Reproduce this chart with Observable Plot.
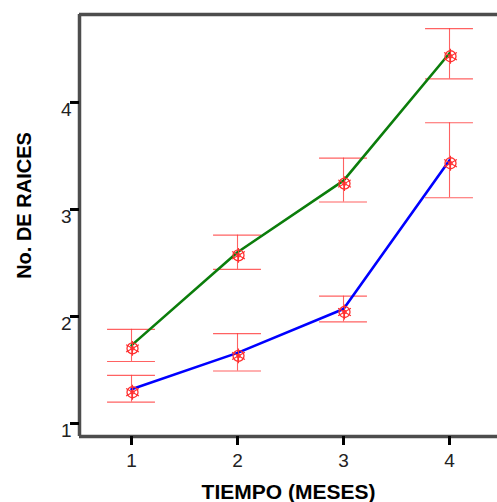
<!DOCTYPE html>
<html>
<head>
<meta charset="utf-8">
<script src="https://cdn.jsdelivr.net/npm/d3@7"></script>
<script src="https://cdn.jsdelivr.net/npm/@observablehq/plot@0.6"></script>
<style>
  html, body { margin: 0; padding: 0; background: #fff; }
</style>
</head>
<body>
<div id="chart"></div>
<script>
// ---- data ----
const months = [1, 2, 3, 4];
const greenMean = [1.73, 2.60, 3.27, 4.46];
const greenLow  = [1.58, 2.44, 3.07, 4.22];
const greenHigh = [1.88, 2.76, 3.48, 4.69];
const blueMean  = [1.32, 1.66, 2.07, 3.46];
const blueLow   = [1.20, 1.49, 1.95, 3.11];
const blueHigh  = [1.45, 1.84, 2.19, 3.81];
const xTicks = [1, 2, 3, 4];
const yTicks = [1, 2, 3, 4];
const xTitle = "TIEMPO (MESES)";
const yTitle = "No. DE RAICES";

// ---- layout ----
const W = 497, H = 502;
const xDomain = [0.5094, 4.4528];
const yDomain = [0.8785, 4.822];
const capHalf = 0.226; // half-width of error-bar caps in x units
const FONT = "'Liberation Sans', Arial, Helvetica, sans-serif";
const fmt = d3.format("d");

const rows = [];
months.forEach((t, i) => {
  rows.push({serie: "verde", t, mean: greenMean[i], low: greenLow[i], high: greenHigh[i]});
  rows.push({serie: "azul", t, mean: blueMean[i], low: blueLow[i], high: blueHigh[i]});
});
const green = rows.filter(d => d.serie === "verde");
const blue = rows.filter(d => d.serie === "azul");

const spine = {stroke: "#4d4d4d", strokeWidth: 3.5};
const err = {stroke: "#ff3b3b", strokeWidth: 1.1, strokeOpacity: 0.8};
const red = "#ff3030";

const chart = Plot.plot({
  width: W,
  height: H,
  marginLeft: 79,
  marginRight: 0,
  marginTop: 14,
  marginBottom: 66,
  style: {fontFamily: FONT, fontSize: "19px", background: "#fff", color: "#222", overflow: "visible"},
  x: {domain: xDomain},
  y: {domain: yDomain},
  marks: [
    // error bars
    Plot.ruleX(rows, {x: "t", y1: "low", y2: "high", ...err}),
    Plot.ruleY(rows, {y: "low", x1: d => d.t - capHalf, x2: d => d.t + capHalf, ...err}),
    Plot.ruleY(rows, {y: "high", x1: d => d.t - capHalf, x2: d => d.t + capHalf, ...err}),
    // lines
    Plot.line(green, {x: "t", y: "mean", stroke: "#0b7d0b", strokeWidth: 2.6}),
    Plot.line(blue, {x: "t", y: "mean", stroke: "#0000ff", strokeWidth: 2.6}),
    // markers
    Plot.dot(rows, {x: "t", y: "mean", r: 5.5, stroke: red, strokeWidth: 1.3, fill: "none", dx: 1, dy: 3}),
    Plot.dot(rows, {x: "t", y: "mean", r: 7, symbol: "asterisk", stroke: red, strokeWidth: 1.1, dx: 1, dy: 3}),
    Plot.dot(rows, {x: "t", y: "mean", r: 1.8, stroke: red, strokeWidth: 1, fill: "none", dx: 1, dy: 3}),
    // frame (left, top, bottom)
    Plot.ruleX([xDomain[0]], spine),
    Plot.ruleY([yDomain[0], yDomain[1]], spine),
    // axes
    Plot.axisX({ticks: xTicks, tickFormat: fmt, tickSize: 9, tickPadding: 7.5, strokeWidth: 3, stroke: "#000", fill: "#222", fontSize: 19, label: null}),
    Plot.axisY({ticks: yTicks, tickSize: 9, strokeWidth: 3, stroke: "#000", tickFormat: () => "", label: null}),
    Plot.axisY({ticks: yTicks, tickFormat: fmt, tickSize: 0, tickPadding: 8, dy: 7, fill: "#222", fontSize: 19, label: null}),
    // titles
    Plot.text([xTitle], {frameAnchor: "bottom", dy: 56, fontSize: 21, fontWeight: "bold", fill: "#000", lineAnchor: "middle", textAnchor: "middle"}),
    Plot.text([yTitle], {frameAnchor: "left", dx: -55, dy: -20, rotate: -90, fontSize: 20, fontWeight: "bold", fill: "#000", lineAnchor: "middle", textAnchor: "middle"})
  ]
});
document.getElementById("chart").appendChild(chart);
</script>
</body>
</html>
